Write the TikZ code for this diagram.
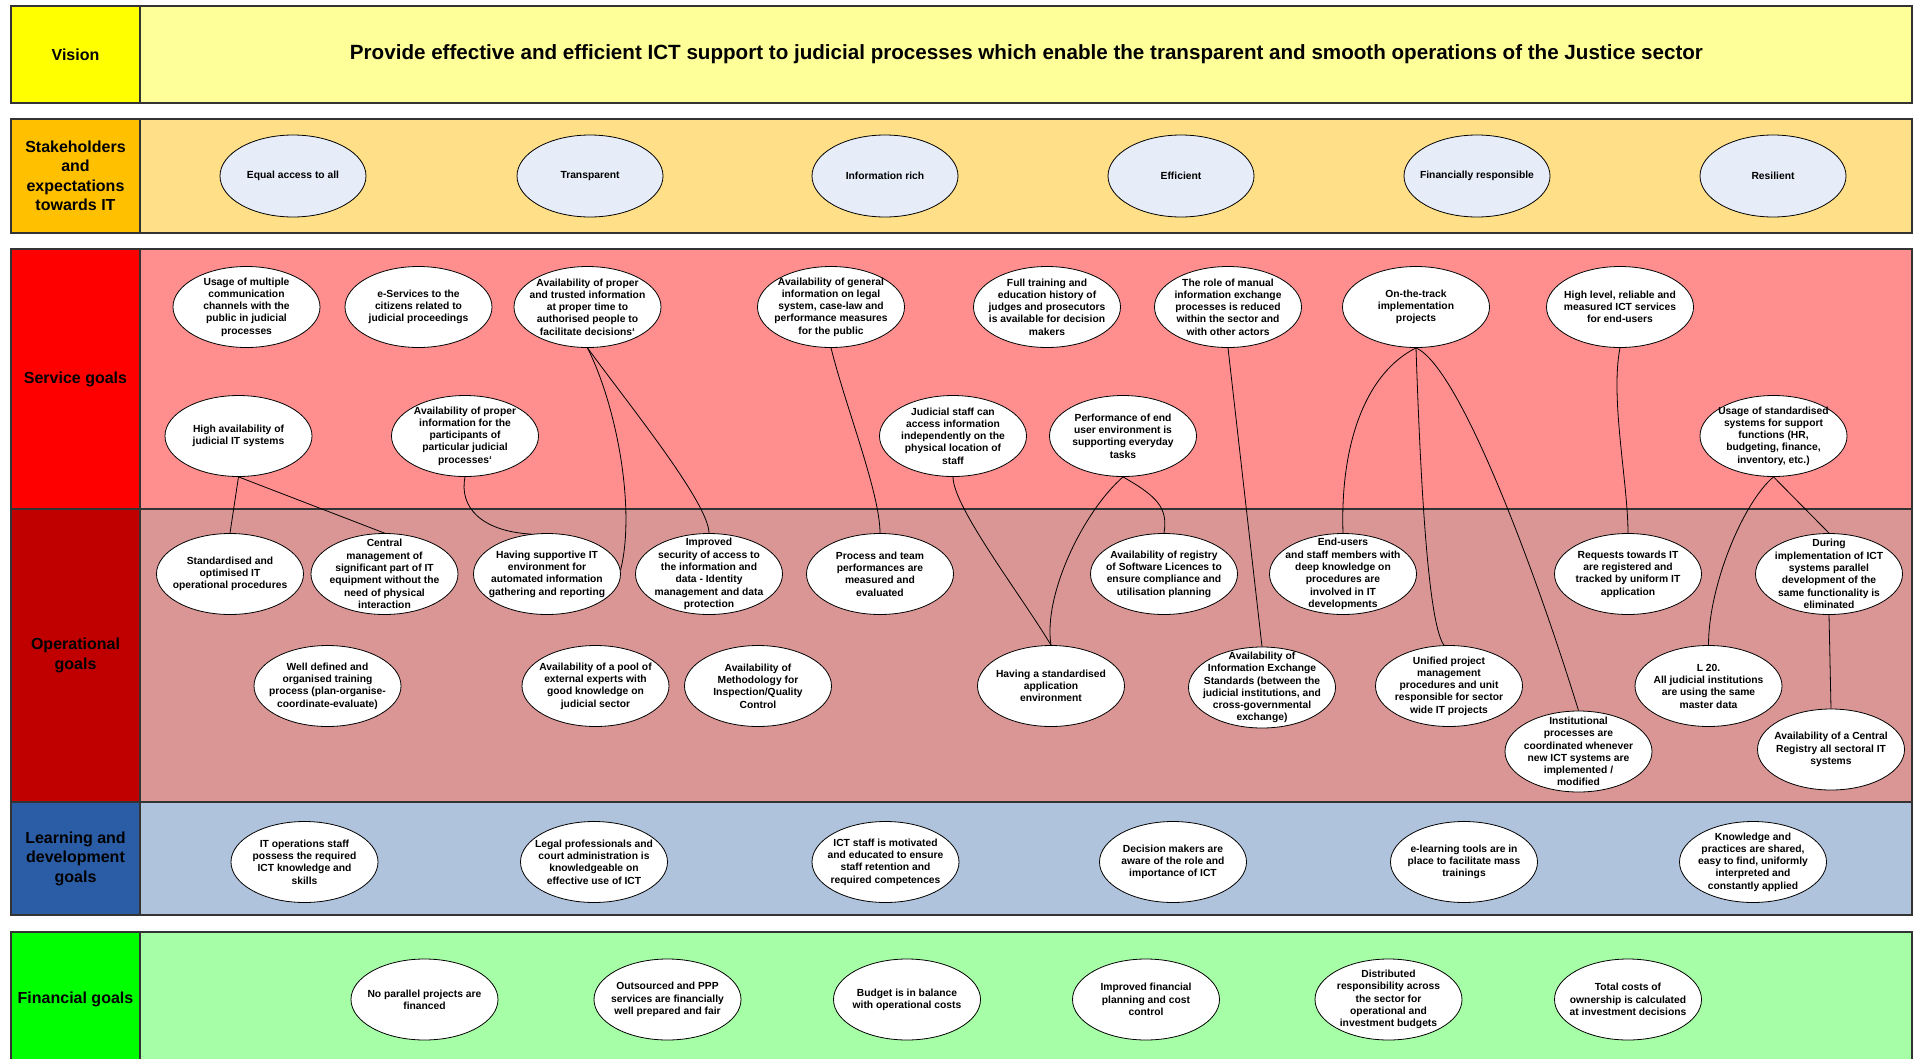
\documentclass[tikz,border=0pt]{standalone}
\usepackage{fontspec}
\setmainfont{Liberation Sans}
\usetikzlibrary{shapes.geometric}
\definecolor{cVisL}{HTML}{FFFF00}
\definecolor{cVisB}{HTML}{FFFF99}
\definecolor{cStkL}{HTML}{FFC000}
\definecolor{cStkB}{HTML}{FFDF88}
\definecolor{cSrvL}{HTML}{FF0000}
\definecolor{cSrvB}{HTML}{FF8F8F}
\definecolor{cOpL}{HTML}{C00000}
\definecolor{cOpB}{HTML}{D99694}
\definecolor{cLrnL}{HTML}{2A5DA6}
\definecolor{cLrnB}{HTML}{B0C3DC}
\definecolor{cFinL}{HTML}{00FF00}
\definecolor{cFinB}{HTML}{A6FFA6}
\definecolor{cStkE}{HTML}{E6ECF8}
\definecolor{cEdge}{HTML}{333333}
\tikzset{
 band/.style={draw=cEdge, line width=1.1pt},
 cell/.style={rectangle, draw=cEdge, line width=1.1pt, inner sep=0pt, align=center,
   font=\fontsize{16}{19.5}\selectfont\bfseries},
 goal/.style={ellipse, draw=black, line width=0.8pt, fill=white, minimum width=147pt, minimum height=81pt, inner sep=0pt},
 stake/.style={goal, fill=cStkE, minimum width=146pt, minimum height=82pt},
 gtext/.style={align=center, inner sep=0pt, font=\fontsize{10.3}{12.3}\selectfont\bfseries},
 link/.style={draw=black, line width=0.8pt},
}
\newcommand\goalnode[5][goal]{\node[#1, label={[gtext]center:{#5}}] (#2) at (#3,#4) {};}
\begin{document}
\begin{tikzpicture}[x=1pt,y=-1pt]
\useasboundingbox (0,0) rectangle (1915,1058);
\fill[white] (0,0) rectangle (1915,1058);
% ---------- bands ----------
\draw[band, fill=cVisB] (140,6) rectangle (1912,103);
\node[cell, fill=cVisL, minimum width=129pt, minimum height=97pt] (lVis) at (75.5,54.5) {Vision};
\node[font=\fontsize{20.6}{24}\selectfont\bfseries, inner sep=0pt] (vision) at (1026.5,54.5)
  {Provide effective and efficient ICT support to judicial processes which enable the transparent and smooth operations of the Justice sector};
\draw[band, fill=cStkB] (140,119) rectangle (1912,233);
\node[cell, fill=cStkL, minimum width=129pt, minimum height=114pt] (lStk) at (75.5,176) {Stakeholders\\and\\expectations\\towards IT};
\draw[band, fill=cSrvB] (140,249) rectangle (1912,509);
\node[cell, fill=cSrvL, minimum width=129pt, minimum height=260pt] (lSrv) at (75.5,379) {Service goals};
\draw[band, fill=cOpB] (140,509) rectangle (1912,802);
\node[cell, fill=cOpL, minimum width=129pt, minimum height=293pt] (lOp) at (75.5,655.5) {Operational\\goals};
\draw[band, fill=cLrnB] (140,802) rectangle (1912,915);
\node[cell, fill=cLrnL, minimum width=129pt, minimum height=113pt] (lLrn) at (75.5,858.5) {Learning and\\development\\goals};
\draw[band, fill=cFinB] (140,932) rectangle (1912,1066);
\node[cell, fill=cFinL, minimum width=129pt, minimum height=134pt] (lFin) at (75.5,999) {Financial goals};
% ---------- stakeholders ----------
\goalnode[stake]{s1}{293}{176}{Equal access to all}
\goalnode[stake]{s2}{590}{176}{Transparent}
\goalnode[stake]{s3}{885}{176}{Information rich}
\goalnode[stake]{s4}{1181}{176}{Efficient}
\goalnode[stake]{s5}{1477}{176}{Financially responsible}
\goalnode[stake]{s6}{1773}{176}{Resilient}
% ---------- service goals ----------
\goalnode{e1}{246.5}{307}{Usage of multiple\\communication\\channels with the\\public in judicial\\processes}
\goalnode{e2}{418.5}{307}{e-Services to the\\citizens related to\\judicial proceedings}
\goalnode{e3}{587.5}{307}{Availability of proper\\and trusted information\\at proper time to\\authorised people to\\facilitate decisions\symbol{96}}
\goalnode{e4}{831}{307}{Availability of general\\information on legal\\system, case-law and\\performance measures\\for the public}
\goalnode{e5}{1047}{307}{Full training and\\education history of\\judges and prosecutors\\is available for decision\\makers}
\goalnode{e6}{1228}{307}{The role of manual\\information exchange\\processes is reduced\\within the sector and\\with other actors}
\goalnode{e7}{1416}{307}{On-the-track\\implementation\\projects}
\goalnode{e8}{1620}{307}{High level, reliable and\\measured ICT services\\for end-users}
\goalnode{e9}{238.5}{436}{High availability of\\judicial IT systems}
\goalnode{e10}{465}{436}{Availability of proper\\information for the\\participants of\\particular judicial\\processes\symbol{96}}
\goalnode{e11}{953}{436}{Judicial staff can\\access information\\independently on the\\physical location of\\staff}
\goalnode{e12}{1123}{436}{Performance of end\\user environment is\\supporting everyday\\tasks}
\goalnode{e13}{1773.5}{436}{Usage of standardised\\systems for support\\functions (HR,\\budgeting, finance,\\inventory, etc.)}
% ---------- operational goals ----------
\goalnode{e14}{230}{574}{Standardised and\\optimised IT\\operational procedures}
\goalnode{e15}{384.5}{574}{Central\\management of\\significant part of IT\\equipment without the\\need of physical\\interaction}
\goalnode{e16}{547}{574}{Having supportive IT\\environment for\\automated information\\gathering and reporting}
\goalnode{e17}{709}{574}{Improved\\security of access to\\the information and\\data - Identity\\management and data\\protection}
\goalnode{e18}{880}{574}{Process and team\\performances are\\measured and\\evaluated}
\goalnode{e19}{1164}{574}{Availability of registry\\of Software Licences to\\ensure compliance and\\utilisation planning}
\goalnode{e20}{1343}{574}{End-users\\and staff members with\\deep knowledge on\\procedures are\\involved in IT\\developments}
\goalnode{e21}{1628}{574}{Requests towards IT\\are registered and\\tracked by uniform IT\\application}
\goalnode{e22}{1829}{574}{During\\implementation of ICT\\systems parallel\\development of the\\same functionality is\\eliminated}
\goalnode{e23}{327.5}{686}{Well defined and\\organised training\\process (plan-organise-\\coordinate-evaluate)}
\goalnode{e24}{595.5}{686}{Availability of a pool of\\external experts with\\good knowledge on\\judicial sector}
\goalnode{e25}{758}{686}{Availability of\\Methodology for\\Inspection/Quality\\Control}
\goalnode{e26}{1051}{686}{Having a standardised\\application\\environment}
\goalnode{e27}{1262}{687.5}{Availability of\\Information Exchange\\Standards (between the\\judicial institutions, and\\cross-governmental\\exchange)}
\goalnode{e28}{1449}{686}{Unified project\\management\\procedures and unit\\responsible for sector\\wide IT projects}
\goalnode{e29}{1578.5}{751.5}{Institutional\\processes are\\coordinated whenever\\new ICT systems are\\implemented /\\modified}
\goalnode{e30}{1708.5}{686}{L 20.\\All judicial institutions\\are using the same\\master data}
\goalnode{e31}{1831}{749.5}{Availability of a Central\\Registry all sectoral IT\\systems}
% ---------- learning ----------
\goalnode{e32}{304.5}{862}{IT operations staff\\possess the required\\ICT knowledge and\\skills}
\goalnode{e33}{594}{862}{Legal professionals and\\court administration is\\knowledgeable on\\effective use of ICT}
\goalnode{e34}{885.5}{862}{ICT staff is motivated\\and educated to ensure\\staff retention and\\required competences}
\goalnode{e35}{1173}{862}{Decision makers are\\aware of the role and\\importance of ICT}
\goalnode{e36}{1464}{862}{e-learning tools are in\\place to facilitate mass\\trainings}
\goalnode{e37}{1753}{862}{Knowledge and\\practices are shared,\\easy to find, uniformly\\interpreted and\\constantly applied}
% ---------- financial ----------
\goalnode{e38}{424.5}{999.5}{No parallel projects are\\financed}
\goalnode{e39}{667.5}{999.5}{Outsourced and PPP\\services are financially\\well prepared and fair}
\goalnode{e40}{907}{999.5}{Budget is in balance\\with operational costs}
\goalnode{e41}{1146}{999.5}{Improved financial\\planning and cost\\control}
\goalnode{e42}{1388.5}{999.5}{Distributed\\responsibility across\\the sector for\\operational and\\investment budgets}
\goalnode{e43}{1628}{999.5}{Total costs of\\ownership is calculated\\at investment decisions}
% ---------- connectors ----------
\draw[link] (e9.south) -- (e14.north);
\draw[link] (e9.south) -- (e15.north);
\draw[link] (e10.south) .. controls +(-6,30) and +(-50,-3) .. (e16.112);
\draw[link] (e3.south) .. controls +(30,60) and +(15,-60) .. (e16.3);
\draw[link] (e3.south) .. controls +(40,55) and +(0,-30) .. (e17.north);
\draw[link] (e4.south) .. controls +(15,60) and +(0,-40) .. (e18.north);
\draw[link] (e11.south) .. controls +(0,30) and +(-30,-50) .. (e26.north);
\draw[link] (e12.south) .. controls +(-40,35) and +(-8,-50) .. (e26.north);
\draw[link] (e12.south) .. controls +(35,20) and +(4,-25) .. (e19.north);
\draw[link] (e6.south) -- (e27.north);
\draw[link] (e7.south) .. controls +(-50,25) and +(-3,-90) .. (e20.north);
\draw[link] (e7.south) .. controls +(5,150) and +(-15,-20) .. (e28.97);
\draw[link] (e7.south) .. controls +(45,20) and +(-40,-130) .. (e29.north);
\draw[link] (e8.south) .. controls +(-10,50) and +(0,-50) .. (e21.north);
\draw[link] (e13.south) .. controls +(-30,25) and +(0,-60) .. (e30.north);
\draw[link] (e13.south) -- (e22.north);
\draw[link] (e22.south) -- (e31.north);
\end{tikzpicture}
\end{document}
